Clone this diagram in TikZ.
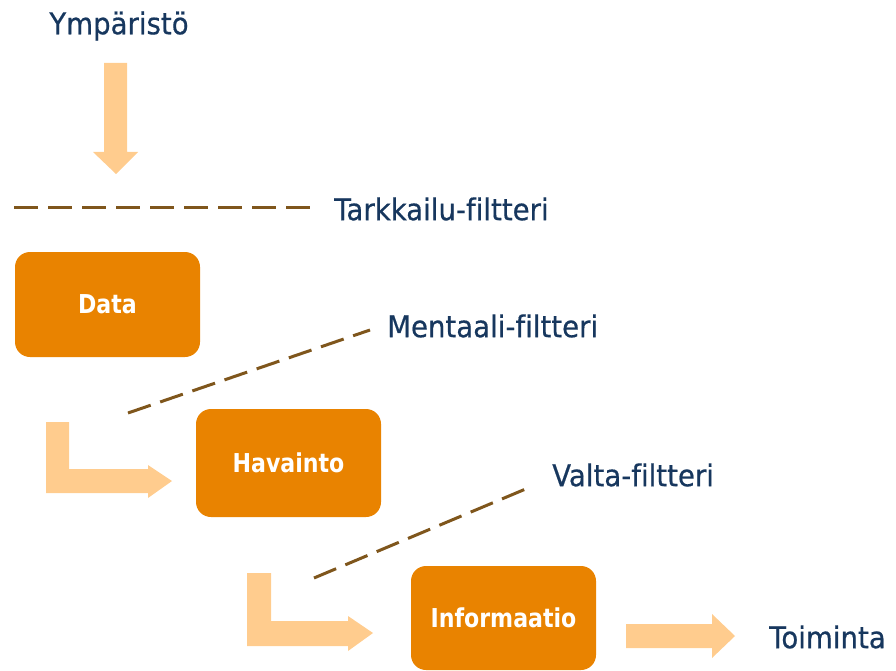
\documentclass[tikz,border=0pt]{standalone}
\usepackage{fontspec}
\setmainfont[Ligatures=NoCommon]{DejaVu Sans}
\newfontfamily\labelfont[Ligatures=NoCommon, FakeStretch=0.92,
  BoldFont={DejaVu Sans}, BoldFeatures={FakeBold=0.5}]{DejaVu Sans}
\newfontfamily\stagefont[Ligatures=NoCommon, FakeStretch=0.85]{DejaVu Sans Bold}
\definecolor{navytext}{HTML}{17375E}
\definecolor{boxorange}{HTML}{E98300}
\definecolor{flowpale}{HTML}{FFCC8E}
\definecolor{filterbrown}{HTML}{7F561C}
\tikzset{
  label/.style={text=navytext, font=\labelfont\bfseries\fontsize{30}{35}\selectfont, inner sep=0pt},
  stagebox/.style={fill=boxorange, rounded corners=15pt},
  stagetext/.style={text=white, font=\stagefont\fontsize{26}{30}\selectfont, inner sep=0pt},
  filterline/.style={draw=filterbrown, line width=3pt, dash pattern=on 24pt off 10pt},
  flow/.style={fill=flowpale, draw=none}
}
\begin{document}
\begin{tikzpicture}[x=1pt, y=-1pt]
  \useasboundingbox (0,0) rectangle (896,671);

  % texts
  \node[label] (env) at (119,26) {Ympäristö};
  \node[label, anchor=west] (obs) at (334,209) {Tarkkailu-filtteri};
  \node[label, anchor=west] (ment) at (387,326) {Mentaali-filtteri};
  \node[label, anchor=west] (power) at (552,475) {Valta-filtteri};
  \node[label, anchor=west] (act) at (769,637) {Toiminta};

  % stage boxes
  \path[stagebox] (15,252) rectangle (200,357);
  \node[stagetext] (data) at (107.5,304) {Data};
  \path[stagebox] (196,409) rectangle (381,517);
  \node[stagetext] (hav) at (288.5,463) {Havainto};
  \path[stagebox] (411,566) rectangle (596,670);
  \node[stagetext] (info) at (503.5,618) {Informaatio};

  % filters
  \draw[filterline] (14,207) -- (312,207);
  \draw[filterline] (128,413) -- (370,330);
  \draw[filterline] (314,578) -- (528,488);

  % flow arrows
  \fill[flow] (104,63) -- (127,63) -- (127,152) -- (138,152) -- (116,174)
    -- (93,152) -- (104,152) -- cycle;
  \fill[flow] (46,422) -- (69,422) -- (69,469) -- (148,469) -- (148,465)
    -- (172,481) -- (148,498) -- (148,493) -- (46,493) -- cycle;
  \fill[flow] (247,573) -- (271,573) -- (271,621) -- (348,621) -- (348,616)
    -- (373,633) -- (348,651) -- (348,646) -- (247,646) -- cycle;
  \fill[flow] (626,624) -- (712,624) -- (712,614) -- (735,636) -- (712,658)
    -- (712,648) -- (626,648) -- cycle;
\end{tikzpicture}
\end{document}
